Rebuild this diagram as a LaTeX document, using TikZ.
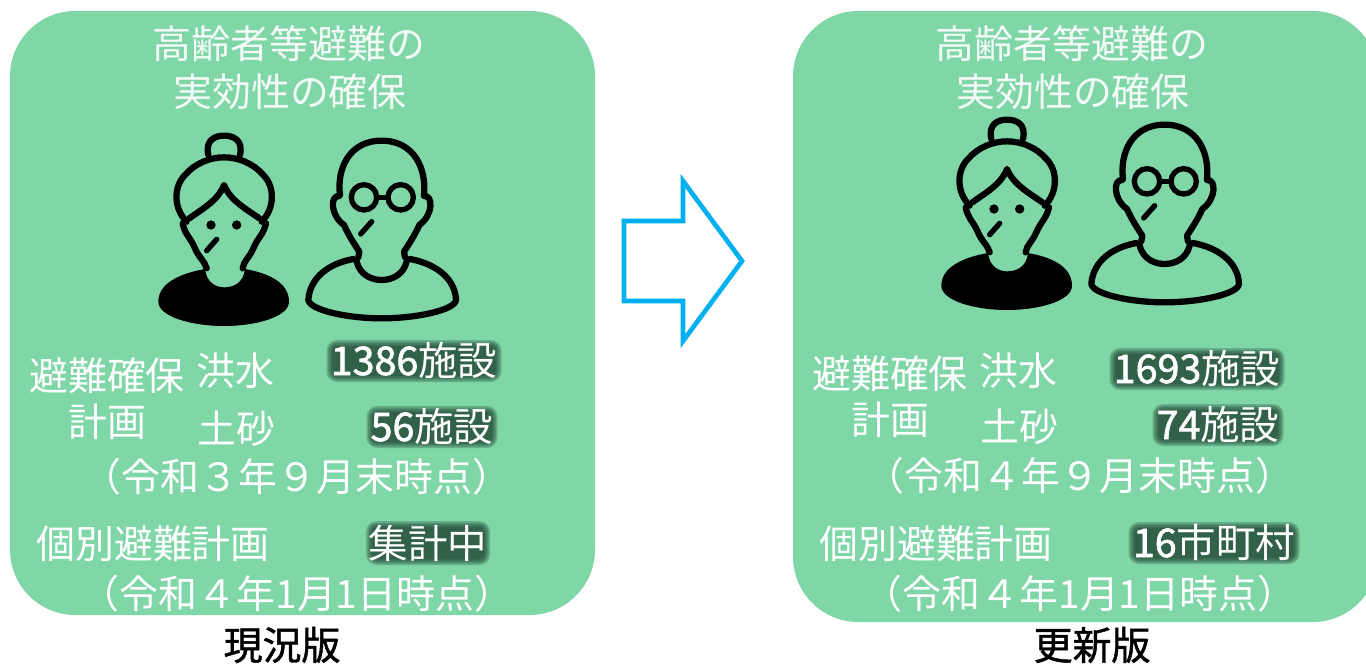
\documentclass[tikz,border=0pt]{standalone}
\usepackage{fontspec}
\setmainfont{Noto Sans CJK JP}
\definecolor{panelgreen}{HTML}{7FD6A7}
\definecolor{arrowblue}{HTML}{00B0F0}
\definecolor{softwhite}{HTML}{F4FBF7}
\definecolor{hazedark}{HTML}{1C3F2E}
\newcommand{\glowtxt}[2]{\textcolor{white}{{\addfontfeature{FakeBold=1.6}#1}#2}}
\newcommand{\haze}[4]{%
  \foreach \gr/\gc in {4.5/8,3/7,1.5/6,0/5,-1.5/4}{%
    \fill[hazedark,opacity=.25,rounded corners=\gc pt] (#1-#3/2-\gr,#2-#4/2-\gr) rectangle (#1+#3/2+\gr,#2+#4/2+\gr);}}
\tikzset{
  panel/.style={fill=panelgreen,rounded corners=49pt},
  label/.style={text=white,font=\fontsize{29.2}{31}\selectfont,inner sep=0pt},
  titletext/.style={text=softwhite,font=\fontsize{29.2}{31}\selectfont,inner sep=0pt},
  glow/.style={font=\fontsize{29.6}{32}\selectfont,inner sep=0pt},
  caption/.style={text=black,font=\fontsize{29.2}{31}\selectfont\addfontfeature{FakeBold=1.2},inner sep=0pt},
  figline/.style={line width=4.7pt,line cap=round,line join=round,draw=black},
  thinline/.style={line width=4pt,line cap=round,line join=round,draw=black},
  woman/.pic={
    \begin{scope}[scale=1/3]
    \draw[figline] (205,105) .. controls (195,60) and (225,47) .. (252,47) .. controls (280,47) and (310,60) .. (300,105);
    \draw[figline] (140,305) .. controls (100,265) and (100,200) .. (135,165) .. controls (165,130) and (210,112) .. (252,112) .. controls (295,112) and (340,130) .. (370,165) .. controls (405,200) and (405,265) .. (365,305);
    \draw[figline] (148,295) .. controls (190,265) and (235,240) .. (252,195) .. controls (270,240) and (315,265) .. (358,295);
    \draw[figline] (128,310) .. controls (135,345) and (150,350) .. (165,385) .. controls (175,410) and (195,425) .. (200,445);
    \draw[figline] (378,310) .. controls (370,345) and (355,350) .. (340,385) .. controls (330,410) and (310,425) .. (308,445);
    \fill[black] (195,447) .. controls (200,490) and (230,502) .. (252,502) .. controls (280,502) and (310,490) .. (315,447) .. controls (390,460) and (447,490) .. (447,545) .. controls (447,590) and (350,618) .. (252,618) .. controls (155,618) and (55,590) .. (55,545) .. controls (55,490) and (120,460) .. (195,447) -- cycle;
    \fill[black] (213,315) circle[radius=14];
    \fill[black] (290,315) circle[radius=14];
    \draw[thinline] (200,392) -- (230,358);
    \end{scope}
  },
  man/.pic={
    \begin{scope}[scale=1/3]
    \draw[figline] (600,225) .. controls (590,150) and (625,62) .. (725,62) .. controls (825,62) and (860,150) .. (852,225);
    \draw[figline] (598,228) .. controls (570,225) and (570,285) .. (612,315) .. controls (625,345) and (645,375) .. (658,395) -- (655,412);
    \draw[figline] (852,228) .. controls (880,225) and (880,285) .. (838,315) .. controls (825,345) and (805,375) .. (792,395) -- (795,412);
    \draw[thinline] (672,232) circle[radius=38];
    \draw[thinline] (782,232) circle[radius=38];
    \draw[thinline] (710,232) -- (744,232);
    \draw[thinline] (662,342) -- (695,305);
    \draw[figline] (640,417) .. controls (570,430) and (510,470) .. (505,540) .. controls (510,570) and (620,595) .. (725,595) .. controls (830,595) and (945,570) .. (948,540) .. controls (945,470) and (880,430) .. (810,417);
    \draw[figline] (650,425) .. controls (660,465) and (695,480) .. (725,480) .. controls (755,480) and (790,465) .. (800,425);
    \end{scope}
  }
}
\begin{document}
\begin{tikzpicture}[x=0.75pt,y=-0.75pt]
\useasboundingbox (0,0) rectangle (1366,664);
\clip (0,0) rectangle (1366,664);
\path[panel] (10,11) rectangle (595,615);
\path[panel] (793,11) rectangle (1378,622);
% left panel
\node[titletext] (lt1) at (289,44) {高齢者等避難の};
\node[titletext] (lt2) at (290,92) {実効性の確保};
\pic at (140,120) {woman};
\pic at (140,120) {man};
\node[label] (la1) at (107,376) {避難確保};
\node[label] (la2) at (107,422) {計画};
\node[label] (lb1) at (235,371) {洪水};
\node[label] (lb2) at (236,429) {土砂};
\haze{414}{361}{166}{33}
\node[glow] (lc1) at (414,360) {\glowtxt{1386}{施設}};
\haze{432}{427}{122}{33}
\node[glow] (lc2) at (432,426) {\glowtxt{56}{施設}};
\node[label] (ld1) at (297,477) {（令和３年９月末時点）};
\node[label] (le1) at (153,544) {個別避難計画};
\haze{428}{543}{115}{35}
\node[glow] (lc3) at (428,543) {\glowtxt{}{集計中}};
\node[label] (ld2) at (297,594) {（令和４年1月1日時点）};
\node[caption] (lcap) at (282,645) {現況版};
% arrow
\draw[arrowblue,line width=3.5pt,miter limit=10] (624,221) -- (683,221) -- (683,181) -- (742,261) -- (683,341) -- (683,301) -- (624,301) -- cycle;
% right panel
\node[titletext] (rt1) at (1072,44) {高齢者等避難の};
\node[titletext] (rt2) at (1073,92) {実効性の確保};
\pic at (923,104) {woman};
\pic at (923,104) {man};
\node[label] (ra1) at (890,374) {避難確保};
\node[label] (ra2) at (890,420) {計画};
\node[label] (rb1) at (1018,371) {洪水};
\node[label] (rb2) at (1019,427) {土砂};
\haze{1197}{369}{166}{33}
\node[glow] (rc1) at (1197,368) {\glowtxt{1693}{施設}};
\haze{1218}{425}{122}{33}
\node[glow] (rc2) at (1218,424) {\glowtxt{74}{施設}};
\node[label] (rd1) at (1080,476) {（令和４年９月末時点）};
\node[label] (re1) at (936,544) {個別避難計画};
\haze{1214}{543}{162}{33}
\node[glow] (rc3) at (1214,542) {\glowtxt{16}{市町村}};
\node[label] (rd2) at (1080,594) {（令和４年1月1日時点）};
\node[caption] (rcap) at (1092,645) {更新版};
\end{tikzpicture}
\end{document}
